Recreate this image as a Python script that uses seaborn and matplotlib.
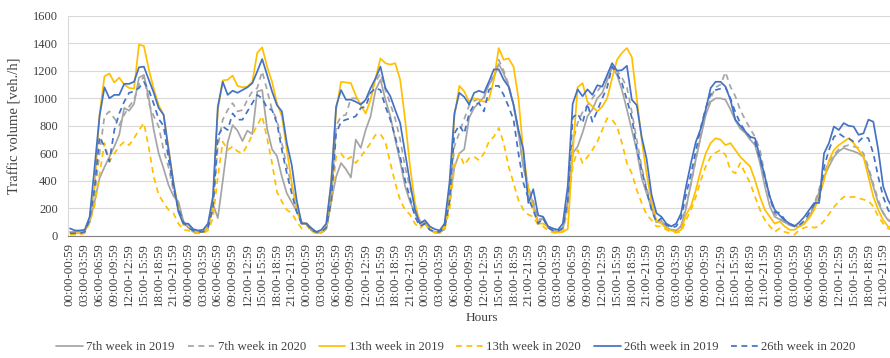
import matplotlib
matplotlib.use("Agg")
import matplotlib.pyplot as plt
from matplotlib.ticker import MultipleLocator, FixedLocator
import seaborn as sns
import pandas as pd

# Hourly traffic volume [veh./h] over one week (Mon..Sun), 24 values per day
week7_2019 = [
    30, 30, 30, 35, 100, 250, 420, 500, 575, 650, 735, 930, 910, 960, 1150, 1170, 1000, 770, 600, 490, 370, 290, 250, 110,
    60, 40, 30, 30, 60, 235, 130, 400, 680, 805, 765, 690, 765, 740, 1050, 1060, 780, 630, 580, 430, 310, 245, 180, 100,
    90, 45, 25, 25, 50, 250, 430, 530, 485, 425, 700, 640, 770, 870, 1060, 1135, 990, 870, 700, 540, 360, 250, 165, 90,
    100, 50, 30, 25, 50, 250, 500, 600, 630, 860, 930, 970, 1010, 1100, 1150, 1250, 1180, 1090, 950, 750, 500, 350, 230, 100,
    130, 60, 40, 30, 50, 250, 600, 650, 750, 870, 920, 1000, 1040, 1130, 1230, 1170, 1060, 920, 770, 620, 420, 310, 200, 100,
    110, 60, 45, 40, 70, 200, 380, 560, 720, 880, 975, 1000, 1000, 990, 920, 840, 780, 750, 700, 660, 530, 360, 215, 140,
    120, 100, 80, 70, 70, 90, 140, 215, 320, 430, 505, 575, 615, 640, 625, 615, 600, 575, 480, 360, 240, 165, 115, 90,
]
week7_2020 = [
    30, 20, 20, 30, 100, 300, 600, 870, 905, 855, 805, 880, 940, 990, 1100, 1160, 965, 870, 795, 625, 500, 330, 200, 100,
    60, 30, 25, 30, 60, 200, 650, 845, 915, 965, 905, 915, 990, 1050, 1075, 1195, 1060, 915, 845, 675, 505, 360, 215, 90,
    90, 40, 25, 25, 50, 250, 800, 870, 880, 1000, 1000, 960, 980, 1050, 1120, 1180, 1060, 960, 850, 700, 500, 350, 220, 110,
    90, 45, 25, 25, 50, 250, 650, 750, 850, 950, 980, 1000, 1000, 1120, 1160, 1280, 1200, 1100, 950, 750, 500, 350, 250, 120,
    130, 60, 40, 30, 50, 250, 680, 820, 900, 950, 1000, 1050, 1100, 1150, 1220, 1200, 1150, 1080, 900, 700, 500, 350, 220, 100,
    110, 60, 45, 40, 70, 220, 380, 560, 730, 890, 1000, 1080, 1100, 1190, 1085, 1015, 915, 845, 780, 720, 625, 440, 280, 160,
    130, 100, 80, 70, 70, 90, 150, 230, 340, 460, 540, 590, 630, 650, 660, 650, 640, 600, 500, 380, 260, 170, 120, 90,
]
week13_2019 = [
    30, 20, 20, 40, 120, 350, 880, 1160, 1180, 1115, 1150, 1100, 1075, 1070, 1390, 1380, 1210, 1070, 950, 880, 640, 390, 200, 80,
    80, 45, 25, 30, 70, 215, 915, 1130, 1135, 1165, 1090, 1080, 1085, 1120, 1330, 1370, 1230, 1120, 965, 870, 625, 385, 190, 90,
    90, 60, 25, 25, 70, 385, 915, 1120, 1115, 1110, 1020, 950, 890, 990, 1145, 1290, 1255, 1245, 1255, 1135, 845, 505, 240, 90,
    90, 45, 25, 25, 70, 285, 870, 1090, 1050, 975, 1000, 990, 975, 990, 1135, 1365, 1280, 1290, 1230, 1000, 600, 340, 200, 90,
    90, 70, 30, 25, 30, 50, 600, 1080, 1110, 975, 940, 905, 940, 1000, 1145, 1280, 1330, 1365, 1300, 1000, 700, 450, 250, 110,
    90, 55, 40, 30, 45, 155, 215, 335, 480, 600, 675, 710, 700, 660, 675, 625, 575, 540, 505, 405, 285, 190, 140, 90,
    105, 70, 45, 45, 70, 90, 130, 190, 285, 405, 550, 625, 660, 685, 710, 675, 625, 575, 430, 285, 190, 115, 70, 50,
]
week13_2020 = [
    10, 10, 10, 20, 100, 220, 450, 675, 540, 600, 650, 685, 660, 710, 770, 820, 640, 430, 300, 240, 190, 165, 90, 45,
    40, 20, 20, 20, 40, 130, 430, 685, 625, 650, 615, 600, 660, 735, 805, 870, 710, 530, 320, 250, 190, 165, 105, 55,
    80, 30, 20, 20, 55, 240, 575, 600, 550, 575, 530, 575, 625, 675, 735, 740, 685, 530, 385, 260, 190, 155, 90, 55,
    90, 55, 25, 20, 45, 190, 505, 600, 515, 565, 575, 550, 600, 685, 720, 785, 675, 505, 385, 260, 190, 155, 140, 80,
    70, 40, 25, 20, 30, 190, 505, 625, 530, 575, 625, 685, 770, 855, 845, 795, 675, 530, 455, 335, 240, 155, 115, 70,
    70, 45, 30, 25, 30, 115, 190, 285, 405, 505, 575, 605, 625, 590, 480, 455, 530, 455, 385, 285, 190, 115, 70, 30,
    55, 30, 20, 10, 45, 60, 70, 60, 70, 110, 160, 210, 250, 285, 280, 285, 275, 265, 255, 215, 140, 90, 55, 40,
]
week26_2019 = [
    55, 40, 40, 45, 140, 500, 870, 1080, 1000, 1025, 1025, 1105, 1105, 1120, 1225, 1230, 1135, 1040, 930, 880, 625, 385, 175, 90,
    90, 50, 40, 45, 90, 285, 940, 1120, 1025, 1055, 1040, 1060, 1080, 1110, 1195, 1285, 1170, 1050, 950, 905, 675, 515, 260, 90,
    90, 55, 30, 45, 90, 385, 940, 1060, 990, 990, 975, 955, 990, 1075, 1145, 1230, 1075, 1015, 915, 820, 600, 385, 190, 90,
    115, 70, 50, 40, 90, 385, 890, 1040, 1010, 955, 1040, 1055, 1040, 1120, 1210, 1210, 1135, 1085, 955, 770, 625, 240, 340, 150,
    140, 70, 55, 45, 90, 360, 960, 1065, 1015, 1065, 1025, 1095, 1085, 1170, 1255, 1200, 1205, 1236, 990, 950, 720, 560, 300, 165,
    140, 90, 70, 90, 165, 360, 530, 685, 780, 920, 1075, 1120, 1120, 1085, 990, 845, 800, 760, 720, 710, 575, 430, 285, 190,
    150, 115, 90, 70, 100, 140, 190, 240, 240, 600, 675, 795, 770, 820, 800, 795, 735, 745, 845, 830, 625, 360, 260, 200,
]
week26_2020 = [
    20, 20, 20, 30, 120, 350, 720, 650, 540, 770, 890, 975, 1040, 1050, 1075, 1120, 1060, 960, 850, 800, 560, 350, 200, 100,
    60, 40, 30, 30, 60, 200, 720, 795, 770, 890, 845, 845, 905, 965, 1025, 1000, 930, 915, 820, 625, 455, 310, 175, 90,
    90, 40, 30, 30, 60, 250, 745, 830, 845, 855, 870, 930, 940, 1040, 1075, 1060, 940, 845, 720, 575, 405, 275, 140, 70,
    90, 45, 30, 30, 60, 250, 745, 805, 745, 890, 955, 965, 905, 1060, 1090, 1090, 1025, 940, 845, 600, 385, 275, 190, 90,
    130, 60, 40, 35, 60, 250, 860, 890, 820, 960, 830, 910, 1000, 1080, 1230, 1180, 1110, 990, 860, 640, 480, 330, 190, 100,
    130, 80, 60, 70, 130, 300, 450, 620, 790, 930, 1030, 1060, 1070, 1080, 1000, 900, 820, 760, 720, 680, 560, 420, 280, 170,
    170, 120, 90, 75, 80, 110, 170, 230, 260, 500, 625, 720, 745, 720, 710, 685, 685, 720, 710, 600, 430, 285, 190, 140,
]

series_names = [
    "7th week in 2019", "7th week in 2020",
    "13th week in 2019", "13th week in 2020",
    "26th week in 2019", "26th week in 2020",
]
series_values = [week7_2019, week7_2020, week13_2019, week13_2020, week26_2019, week26_2020]

day_tick_labels = [
    "00:00-00:59", "03:00-03:59", "06:00-06:59", "09:00-09:59",
    "12:00-12:59", "15:00-15:59", "18:00-18:59", "21:00-21:59",
]
n_days = 7

colors = {
    "7th week in 2019": "#A5A5A5", "7th week in 2020": "#A5A5A5",
    "13th week in 2019": "#FFC000", "13th week in 2020": "#FFC000",
    "26th week in 2019": "#4472C4", "26th week in 2020": "#4472C4",
}
dash_styles = {
    "7th week in 2019": "", "7th week in 2020": (3.4, 2.6),
    "13th week in 2019": "", "13th week in 2020": (3.4, 2.6),
    "26th week in 2019": "", "26th week in 2020": (3.4, 2.6),
}

frames = []
for name, vals in zip(series_names, series_values):
    frames.append(pd.DataFrame({"hour": range(len(vals)), "volume": vals, "series": name}))
df = pd.concat(frames, ignore_index=True)

sns.set_style("white")
plt.rcParams["font.family"] = ["Liberation Serif", "DejaVu Serif"]
text_color = "#404040"

fig = plt.figure(figsize=(8.9, 3.58), dpi=100)
ax = fig.add_axes([67.5 / 890, 122 / 358, 828 / 890, 220.3 / 358])

sns.lineplot(
    data=df, x="hour", y="volume", hue="series", style="series",
    hue_order=series_names, style_order=series_names,
    palette=colors, dashes=dash_styles, linewidth=1.25, ax=ax, legend=True,
)

handles, labels = ax.get_legend_handles_labels()
ax.get_legend().remove()

n_hours = 24 * n_days
ax.set_xlim(-0.5, n_hours - 0.5)
ax.set_ylim(0, 1600)
ax.yaxis.set_major_locator(MultipleLocator(200))
ax.set_xticks(list(range(0, n_hours, 3)))
ax.set_xticklabels(day_tick_labels * n_days, rotation=90, fontsize=9.3, color=text_color)
ax.xaxis.set_minor_locator(FixedLocator([k - 0.5 for k in range(n_hours + 1)]))
ax.tick_params(axis="x", which="major", length=0, pad=5)
ax.tick_params(axis="x", which="minor", length=3, width=0.7, color="#808080", direction="out")
ax.tick_params(axis="y", length=0, pad=7, labelsize=9, labelcolor=text_color)
for lbl in ax.get_yticklabels():
    lbl.set_color(text_color)

ax.grid(axis="y", color="#d9d9d9", linewidth=0.8)
ax.grid(axis="x", visible=False)
ax.set_axisbelow(True)
for side in ("top", "right"):
    ax.spines[side].set_visible(False)
ax.spines["left"].set_color("#d9d9d9")
ax.spines["left"].set_linewidth(0.8)
ax.spines["bottom"].set_color("#808080")
ax.spines["bottom"].set_linewidth(0.8)

ax.set_xlabel("")
ax.set_ylabel("")
fig.text(15 / 890, 1 - 126 / 358, "Traffic volume [veh./h]", rotation=90,
         ha="center", va="center", fontsize=10.5, color=text_color)
fig.text(482 / 890, 1 - 318 / 358, "Hours", ha="center", va="center",
         fontsize=9.5, color=text_color)

fig.legend(
    handles, labels, loc="center", bbox_to_anchor=(456 / 890, 1 - 347 / 358),
    ncol=6, frameon=False, fontsize=9.2, handlelength=2.1, handletextpad=0.25,
    columnspacing=1.0, labelcolor=text_color,
)

fig.savefig("out.png", dpi=100)
